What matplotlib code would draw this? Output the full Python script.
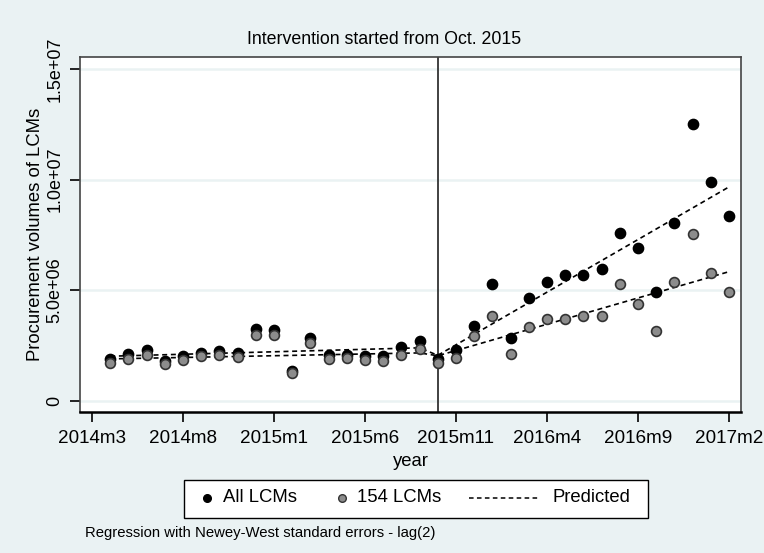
import numpy as np
import matplotlib
matplotlib.use("Agg")
import matplotlib.pyplot as plt
from matplotlib.lines import Line2D
from matplotlib.patches import Rectangle

plt.rcParams['font.family'] = ['Liberation Sans', 'DejaVu Sans']

# months indexed from 2014m3 = 0 ; data runs 2014m4 .. 2017m2
months = np.arange(1, 36)

# procurement volumes
all_lcms = [1.88e6, 2.12e6, 2.28e6, 1.80e6, 2.04e6, 2.17e6, 2.25e6, 2.17e6, 3.24e6,
            3.19e6, 1.35e6, 2.84e6, 2.08e6, 2.08e6, 2.04e6, 2.04e6, 2.44e6, 2.73e6,
            1.90e6, 2.30e6, 3.39e6, 5.27e6, 2.86e6, 4.65e6, 5.38e6, 5.68e6, 5.68e6,
            5.95e6, 7.58e6, 6.89e6, 4.92e6, 8.06e6, 12.51e6, 9.89e6, 8.35e6]
lcms_154 = [1.73e6, 1.88e6, 2.08e6, 1.65e6, 1.85e6, 2.01e6, 2.09e6, 2.00e6, 2.97e6,
            2.96e6, 1.28e6, 2.64e6, 1.88e6, 1.92e6, 1.84e6, 1.81e6, 2.08e6, 2.36e6,
            1.70e6, 1.92e6, 2.94e6, 3.84e6, 2.14e6, 3.32e6, 3.69e6, 3.68e6, 3.84e6,
            3.83e6, 5.30e6, 4.37e6, 3.14e6, 5.39e6, 7.55e6, 5.78e6, 4.92e6]

# predicted (segmented regression) at 2014m4, 2015m9, 2015m10, 2017m2
pred_x = [1, 18, 19, 35]
pred_all = [2.02e6, 2.40e6, 2.06e6, 9.67e6]
pred_154 = [1.90e6, 2.17e6, 2.04e6, 5.84e6]

tick_pos = [0, 5, 10, 15, 20, 25, 30, 35]
tick_labels = ["2014m3", "2014m8", "2015m1", "2015m6", "2015m11", "2016m4", "2016m9", "2017m2"]
ytick_pos = [0, 5e6, 1e7, 1.5e7]
ytick_labels = ["0", "5.0e+06", "1.0e+07", "1.5e+07"]
intervention = 19  # 2015m10

W, H = 764, 553
bg = "#eaf2f3"
gray = "#8c8c8c"
dash = (0, (3, 2.2))

def fx(px):
    return px / W

def fy(py):
    return 1 - py / H

fig = plt.figure(figsize=(W / 100, H / 100), dpi=100, facecolor=bg)
ax = fig.add_axes([fx(80), fy(412), (741 - 80) / W, (412 - 57) / H])
ax.set_facecolor("white")

for y in ytick_pos:
    ax.axhline(y, color=bg, lw=1.8, zorder=0)

ax.axvline(intervention, color="#333333", lw=1.3, zorder=1)

ax.plot(pred_x, pred_all, ls=dash, color="black", lw=1.2, zorder=2)
ax.plot(pred_x, pred_154, ls=dash, color="black", lw=1.2, zorder=2)

ax.scatter(months, all_lcms, s=55, color="black", zorder=3)
ax.scatter(months, lcms_154, s=50, color=gray, edgecolors="#333333", linewidths=1.2, zorder=4)

ax.set_xlim(-0.66, 35.66)
ax.set_ylim(-0.5e6, 15.54e6)
ax.set_xticks(tick_pos)
ax.set_xticklabels(tick_labels, fontsize=13.6)
ax.set_yticks(ytick_pos)
ax.set_yticklabels(ytick_labels, fontsize=13, rotation=90, va="center")
ax.tick_params(axis="both", direction="out", length=7, width=1.2, color="black")
ax.tick_params(axis="x", pad=6)
ax.tick_params(axis="y", pad=5)

for s in ["top", "right", "left"]:
    ax.spines[s].set_color("#444444")
    ax.spines[s].set_linewidth(1.2)
ax.spines["bottom"].set_linewidth(1.8)

fig.text(fx(384), fy(40), "Intervention started from Oct. 2015", fontsize=12.8,
         ha="center", va="center")
ax.set_xlabel("year", fontsize=13.3, labelpad=4)
ax.set_ylabel("Procurement volumes of LCMs", fontsize=13.3, labelpad=2)

# legend drawn by hand (Stata style: short marker keys, long dashed key)
fig.patches.append(Rectangle((fx(184), fy(518)), (648 - 184) / W, (518 - 480) / H,
                             transform=fig.transFigure, facecolor="white",
                             edgecolor="black", lw=1.0))
ly = fy(498)
fig.lines.append(Line2D([fx(207)], [ly], transform=fig.transFigure, ls="none",
                        marker="o", markersize=5.5, color="black"))
fig.text(fx(223), ly, "All LCMs", fontsize=13.3, va="center")
fig.lines.append(Line2D([fx(342)], [ly], transform=fig.transFigure, ls="none",
                        marker="o", markersize=5.5, markerfacecolor=gray,
                        markeredgecolor="#333333"))
fig.text(fx(357), ly, "154 LCMs", fontsize=13.3, va="center")
fig.lines.append(Line2D([fx(469), fx(538)], [ly, ly], transform=fig.transFigure,
                        ls=dash, color="black", lw=1.1))
fig.text(fx(553), ly, "Predicted", fontsize=13.3, va="center")

fig.text(fx(85), fy(533), "Regression with Newey-West standard errors - lag(2)",
         fontsize=10.7, va="center", ha="left")

fig.savefig("out.png", dpi=100, facecolor=bg)
